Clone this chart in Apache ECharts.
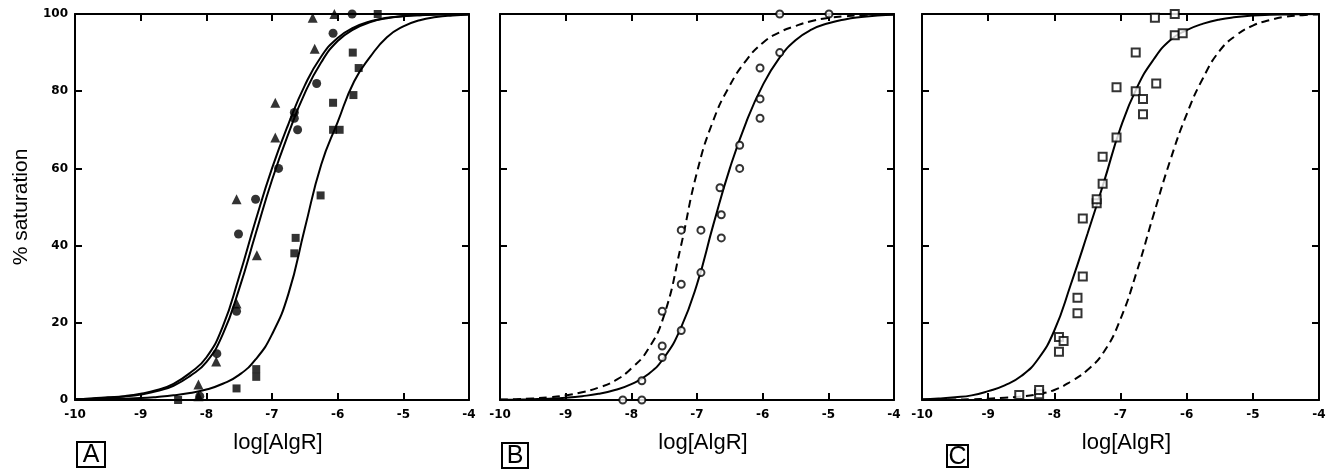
<!DOCTYPE html>
<html>
<head>
<meta charset="utf-8">
<script src="https://cdn.jsdelivr.net/npm/echarts@6/dist/echarts.min.js"></script>
<style>
  html, body { margin: 0; padding: 0; background: #fff; }
  #chart { width: 1332px; height: 469px; }
</style>
</head>
<body>
<div id="chart"></div>
<script>
// axis ticks
var xTicks = [-10, -9, -8, -7, -6, -5, -4]
var yTicks = [0, 20, 40, 60, 80, 100]

// panel A - measured points [log[AlgR], % saturation]
var aTriangles = [[-8.12, 1], [-8.12, 4], [-7.85, 10], [-7.54, 25], [-7.23, 37.5], [-7.54, 52],
  [-6.95, 68], [-6.95, 77], [-6.35, 91], [-6.38, 99], [-6.05, 100]]
var aCircles = [[-8.1, 1], [-7.84, 12], [-7.54, 23], [-7.51, 43], [-7.25, 52], [-6.9, 60],
  [-6.61, 70], [-6.66, 73], [-6.66, 74.5], [-6.32, 82], [-6.07, 95], [-5.78, 100]]
var aSquares = [[-8.43, 0], [-7.54, 3], [-7.24, 6], [-7.24, 8], [-6.66, 38], [-6.64, 42],
  [-6.26, 53], [-6.07, 70], [-5.97, 70], [-6.07, 77], [-5.76, 79], [-5.68, 86], [-5.77, 90], [-5.39, 100]]

// panel B - measured points
var bCircles = [[-8.13, 0], [-7.84, 0], [-7.84, 5], [-7.53, 11], [-7.53, 14], [-7.53, 23],
  [-7.24, 18], [-7.24, 30], [-7.24, 44], [-6.94, 33], [-6.94, 44], [-6.63, 42], [-6.63, 48],
  [-6.65, 55], [-6.35, 60], [-6.35, 66], [-6.04, 73], [-6.04, 78], [-6.04, 86], [-5.74, 90],
  [-5.74, 100], [-4.99, 100]]

// panel C - measured points
var cSquares = [[-8.53, 1.3], [-8.23, 1.5], [-8.23, 2.6], [-7.93, 12.5], [-7.93, 16.3], [-7.86, 15.3],
  [-7.65, 22.5], [-7.65, 26.5], [-7.57, 32], [-7.57, 47], [-7.36, 51], [-7.36, 52], [-7.27, 56],
  [-7.27, 63], [-7.06, 68], [-7.06, 81], [-6.77, 80], [-6.66, 74], [-6.66, 78], [-6.46, 82],
  [-6.77, 90], [-6.18, 94.5], [-6.06, 95], [-6.48, 99], [-6.18, 100]]

var curveX = [-10, -9.75, -9.5, -9.25, -9, -8.75, -8.5, -8.25, -8, -7.75, -7.5, -7.25, -7,
  -6.75, -6.5, -6.25, -6, -5.75, -5.5, -5.25, -5, -4.75, -4.5, -4.25, -4]
var aFit1 = [0.2, 0.4, 0.7, 1, 1.6, 2.6, 4.2, 7, 11, 19, 32, 46.5, 60,
  71.5, 81.5, 89, 93.8, 96.5, 98.1, 99, 99.5, 99.7, 99.85, 99.93, 100]
var aFit2 = [0.2, 0.35, 0.6, 0.9, 1.4, 2.3, 3.7, 6.2, 9.8, 17, 28.8, 43, 57,
  69, 79.5, 87.5, 93, 96.1, 97.9, 98.9, 99.4, 99.7, 99.85, 99.93, 100]
var aFit3 = [0.1, 0.15, 0.25, 0.35, 0.5, 0.8, 1.2, 1.8, 2.7, 4.2, 6.5, 10.5, 17,
  27.5, 44.5, 61, 72, 82.5, 89, 94, 96.8, 98.4, 99.2, 99.6, 99.8]
var bFitSolid = [0.05, 0.1, 0.2, 0.35, 0.6, 1, 1.6, 2.6, 4.1, 6.6, 11, 18.5, 30,
  45.5, 60, 72, 81.5, 88.5, 93.2, 96, 97.6, 98.6, 99.2, 99.6, 99.8]
var bFitDashed = [0.1, 0.2, 0.4, 0.7, 1.2, 2, 3.2, 5, 8.2, 13, 22, 39.5, 59,
  72.5, 81.5, 88, 92.5, 95.2, 96.9, 98.2, 99, 99.4, 99.7, 99.85, 99.95]
var cFitSolid = [0.2, 0.4, 0.7, 1.2, 2.3, 3.8, 6.2, 10.5, 18, 30, 43, 56.5, 70.5,
  81, 88.2, 93.2, 95.8, 97.5, 98.6, 99.2, 99.6, 99.8, 99.9, 99.95, 100]
var cFitDashed = [0.05, 0.08, 0.12, 0.2, 0.35, 0.6, 0.9, 1.5, 2.6, 4.8, 7.8, 12.5, 21,
  33.5, 48, 62, 74, 83.5, 90.5, 94.5, 97, 98.4, 99.3, 99.7, 99.9]

var panelLetters = ['A', 'B', 'C']

var grids = [
  { left: 75, top: 14, width: 394, height: 386 },
  { left: 500, top: 14, width: 394, height: 386 },
  { left: 922, top: 14, width: 397, height: 386 }
]

var tickFont = { fontFamily: 'DejaVu Sans', fontWeight: 'bold', fontSize: 12, color: '#000' }

function xAxis(i, pos) {
  return {
    type: 'value', gridIndex: i, position: pos,
    min: xTicks[0], max: xTicks[xTicks.length - 1], interval: 1,
    axisLine: { show: true, onZero: false, lineStyle: { color: '#000', width: 2 } },
    axisTick: { show: true, inside: true, length: 7, lineStyle: { color: '#000', width: 2 } },
    axisLabel: pos === 'bottom' ? Object.assign({ margin: 9 }, tickFont) : { show: false },
    splitLine: { show: false },
    name: pos === 'bottom' ? 'log[AlgR]' : '',
    nameLocation: 'middle',
    nameGap: 32,
    nameTextStyle: { fontFamily: 'Liberation Sans', fontSize: 22, color: '#000', padding: [0, 0, 0, 12] }
  }
}

function yAxis(i, pos) {
  var withLabels = i === 0 && pos === 'left'
  return {
    type: 'value', gridIndex: i, position: pos,
    min: yTicks[0], max: yTicks[yTicks.length - 1], interval: 20,
    axisLine: { show: true, onZero: false, lineStyle: { color: '#000', width: 2 } },
    axisTick: { show: true, inside: true, length: 7, lineStyle: { color: '#000', width: 2 } },
    axisLabel: withLabels ? Object.assign({ margin: 7 }, tickFont) : { show: false },
    splitLine: { show: false },
    name: withLabels ? '% saturation' : '',
    nameLocation: 'middle',
    nameGap: 43,
    nameTextStyle: { fontFamily: 'Liberation Sans', fontSize: 21, color: '#000' }
  }
}

function curve(i, ys, dashed) {
  return {
    type: 'line', xAxisIndex: 2 * i, yAxisIndex: 2 * i,
    data: curveX.map(function(x, k) { return [x, ys[k]] }),
    smooth: true, symbol: 'none', z: 2,
    lineStyle: { color: '#000', width: 2, type: dashed ? [8, 5] : 'solid' }
  }
}

function points(i, data, symbol, size, empty) {
  return {
    type: 'scatter', xAxisIndex: 2 * i, yAxisIndex: 2 * i, data: data,
    symbol: symbol, symbolSize: size, clip: false, z: 3,
    itemStyle: empty
      ? { color: '#fff', borderColor: '#000', borderWidth: 2 }
      : { color: '#000' }
  }
}

var xAxes = []
var yAxes = []
grids.forEach(function(g, i) {
  xAxes.push(xAxis(i, 'bottom'), xAxis(i, 'top'))
  yAxes.push(yAxis(i, 'left'), yAxis(i, 'right'))
})

// boxed panel letters under each panel
var letterBoxes = [
  { x: 77, y: 442, w: 28, h: 25 },
  { x: 502, y: 443, w: 26, h: 25 },
  { x: 947, y: 445, w: 21, h: 22 }
]
var graphics = []
letterBoxes.forEach(function(b, i) {
  graphics.push({
    type: 'rect', shape: { x: b.x, y: b.y, width: b.w, height: b.h },
    style: { fill: 'none', stroke: '#000', lineWidth: 2 }
  })
  graphics.push({
    type: 'text', x: b.x + b.w / 2, y: b.y + b.h / 2 + 1,
    style: { text: panelLetters[i], fontFamily: 'Liberation Sans', fontSize: 25, fill: '#000', align: 'center', verticalAlign: 'middle' }
  })
})

var myChart = echarts.init(document.getElementById('chart'))
myChart.setOption({
  animation: false,
  backgroundColor: '#fff',
  grid: grids,
  xAxis: xAxes,
  yAxis: yAxes,
  graphic: graphics,
  series: [
    curve(0, aFit1), curve(0, aFit2), curve(0, aFit3),
    points(0, aTriangles, 'triangle', 10),
    points(0, aCircles, 'circle', 9),
    points(0, aSquares, 'rect', 8),
    curve(1, bFitSolid), curve(1, bFitDashed, true),
    points(1, bCircles, 'circle', 7, true),
    curve(2, cFitSolid), curve(2, cFitDashed, true),
    points(2, cSquares, 'rect', 8, true)
  ]
})
</script>
</body>
</html>
